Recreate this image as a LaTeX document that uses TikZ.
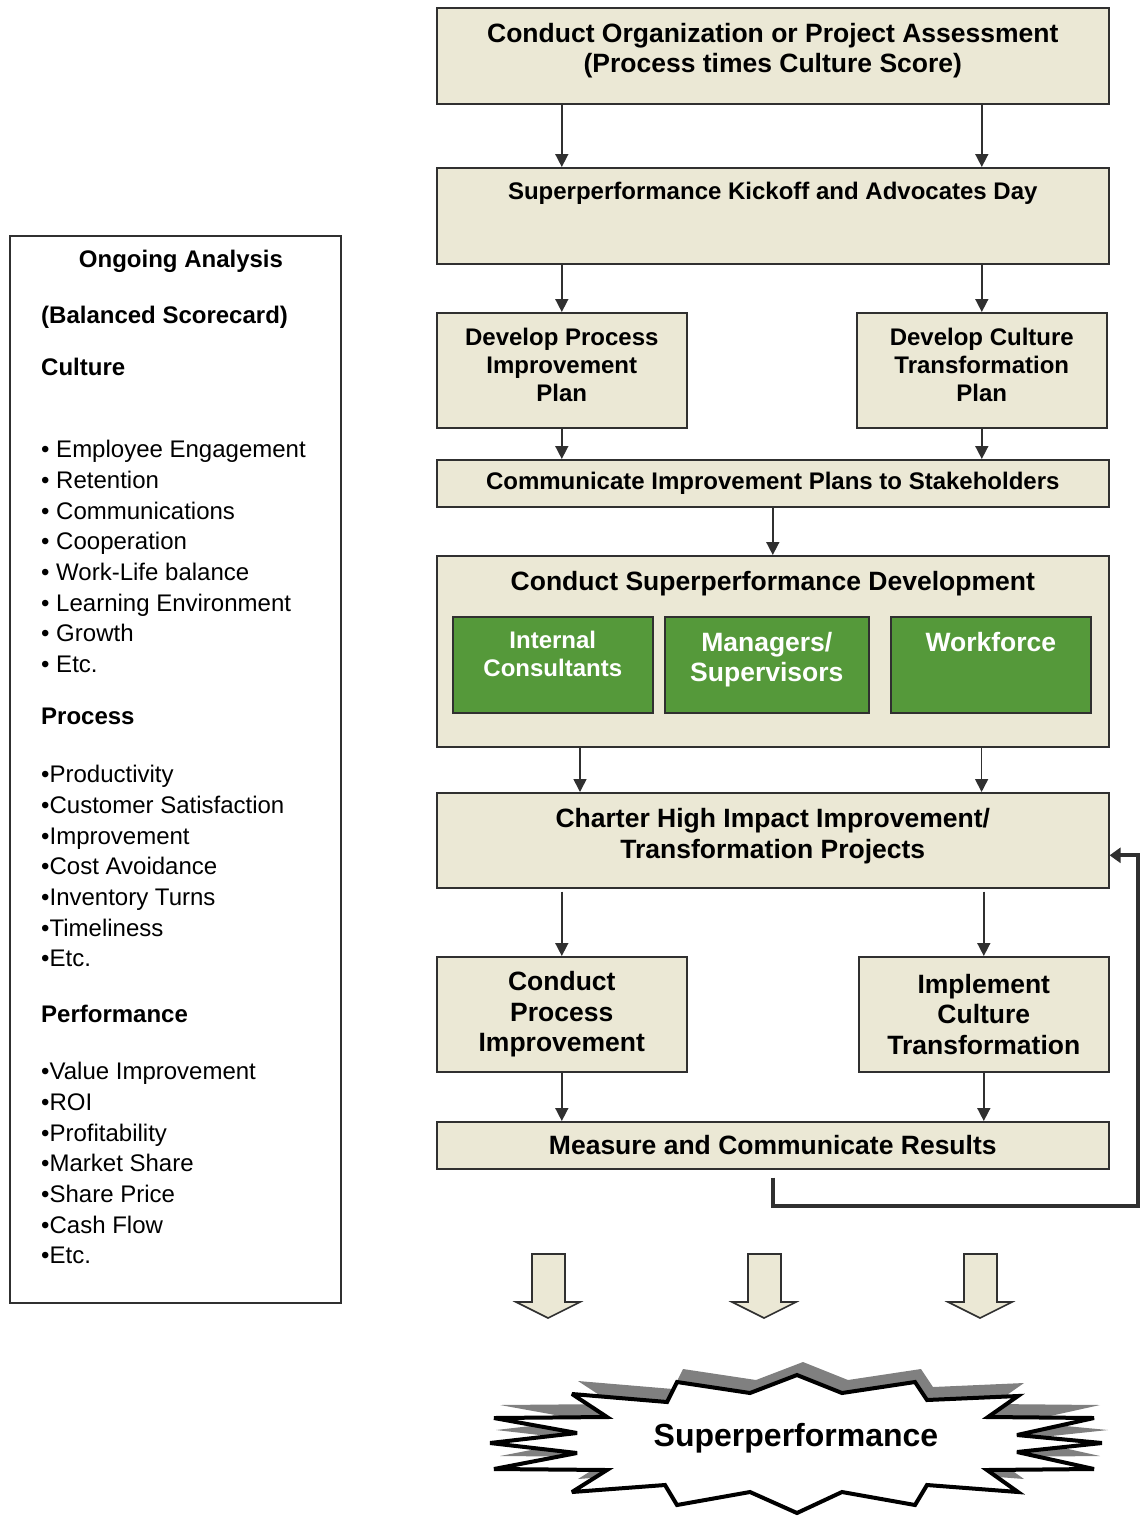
\documentclass[tikz,border=0pt]{standalone}
\usepackage{fontspec}
\setmainfont{Liberation Sans}
\usepackage{xcolor}
\usetikzlibrary{arrows.meta,positioning}
\definecolor{stagefill}{HTML}{EBE8D5}
\definecolor{stageline}{HTML}{303030}
\definecolor{teamfill}{HTML}{55993A}
\definecolor{burstgray}{HTML}{808080}
\newcommand{\bigfont}{\bfseries\fontsize{26.5}{30.5}\selectfont}
\newcommand{\midfont}{\bfseries\fontsize{24}{28}\selectfont}
\newcommand{\listfont}{\fontsize{24}{30.7}\selectfont}
\newcommand{\burstoutline}{(797,1375) -- (842,1393) -- (915,1382) -- (927,1400) -- (1018,1396) -- (988,1417) -- (1094,1418) -- (1017,1435) -- (1102,1443) -- (1017,1452) -- (1094,1469) -- (987,1470) -- (1018,1492) -- (927,1485) -- (915,1505) -- (842,1492) -- (797,1513) -- (750,1492) -- (677,1505) -- (665,1485) -- (572,1492) -- (607,1470) -- (494,1469) -- (577,1453) -- (490,1443) -- (577,1433) -- (494,1418) -- (607,1417) -- (572,1394) -- (667,1402) -- (677,1382) -- (750,1393) -- cycle}

\begin{document}
\begin{tikzpicture}[x=1pt,y=-1pt,
  stage/.style={draw=stageline,fill=stagefill,line width=1.6pt,anchor=north west,inner sep=0pt,align=center,font=\bigfont},
  team/.style={draw=stageline,fill=teamfill,line width=1.6pt,anchor=north west,inner sep=0pt,minimum height=96pt},
  teamtext/.style={inner sep=0pt,align=center,text=white},
  flow/.style={draw=stageline,line width=1.6pt,-{Triangle[length=13pt,width=13pt]}},
  feedback/.style={draw=stageline,line width=4pt,-{Triangle[length=11pt,width=15pt]}},
  fatarrow/.style={draw=stageline,fill=stagefill,line width=1.6pt}]
\useasboundingbox (0,0) rectangle (1143,1521);

% left panel
\node[draw=stageline,line width=1.6pt,anchor=north west,minimum width=331pt,minimum height=1067pt,inner sep=0pt] (analysis) at (9,235) {};
\node[font=\midfont,anchor=base,inner sep=0pt] (ongoing) at (181,267) {Ongoing Analysis};
\node[font=\midfont,anchor=base west,inner sep=0pt] (scorecard) at (41,323) {(Balanced Scorecard)};
\node[font=\midfont,anchor=base west,inner sep=0pt] (culturehead) at (41,375) {Culture};
\node[font=\listfont,anchor=north west,inner sep=0pt,align=left] (culturelist) at (41,440) {• Employee Engagement\\• Retention\\• Communications\\• Cooperation\\• Work-Life balance\\• Learning Environment\\• Growth\\• Etc.};
\node[font=\midfont,anchor=base west,inner sep=0pt] (processhead) at (41,724) {Process};
\node[font=\listfont,anchor=north west,inner sep=0pt,align=left] (processlist) at (41,765) {•Productivity\\•Customer Satisfaction\\•Improvement\\•Cost Avoidance\\•Inventory Turns\\•Timeliness\\•Etc.};
\node[font=\midfont,anchor=base west,inner sep=0pt] (perfhead) at (41,1022) {Performance};
\node[font=\listfont,anchor=north west,inner sep=0pt,align=left] (perflist) at (41,1062) {•Value Improvement\\•ROI\\•Profitability\\•Market Share\\•Share Price\\•Cash Flow\\•Etc.};

% main flow
\node[stage,minimum width=672pt,minimum height=96pt,text depth=16pt] (assess) at (436,7) {Conduct Organization or Project Assessment\\(Process times Culture Score)};
\node[stage,minimum width=672pt,minimum height=96pt] (kickoff) at (436,167) {};
\node[font=\midfont,inner sep=0pt,below=15pt of kickoff.north] (kickofftext) {Superperformance Kickoff and Advocates Day};
\node[stage,font=\midfont,minimum width=250pt,minimum height=115pt,text depth=12pt] (procplan) at (436,312) {Develop Process\\Improvement\\Plan};
\node[stage,font=\midfont,minimum width=250pt,minimum height=115pt,text depth=12pt] (cultplan) at (856,312) {Develop Culture\\Transformation\\Plan};
\node[stage,font=\midfont,minimum width=672pt,minimum height=47pt] (commplan) at (436,459) {Communicate Improvement Plans to Stakeholders};
\node[stage,minimum width=672pt,minimum height=191pt] (develop) at (436,555) {};
\node[font=\bigfont,inner sep=0pt,below=16pt of develop.north] (developtext) {Conduct Superperformance Development};
\node[team,minimum width=200pt] (consult) at (452,616) {};
\node[teamtext,font=\midfont,below=15pt of consult.north] (consulttext) {Internal\\Consultants};
\node[team,minimum width=204pt] (manage) at (664,616) {};
\node[teamtext,font=\bigfont,below=16pt of manage.north] (managetext) {Managers/\\Supervisors};
\node[team,minimum width=200pt] (workforce) at (890,616) {};
\node[teamtext,font=\bigfont,below=16pt of workforce.north] (workforcetext) {Workforce};
\node[stage,minimum width=672pt,minimum height=95pt,text depth=14pt] (charter) at (436,792) {Charter High Impact Improvement/\\Transformation Projects};
\node[stage,minimum width=250pt,minimum height=115pt] (procimpl) at (436,956) {Conduct\\Process\\Improvement};
\node[stage,minimum width=250pt,minimum height=115pt] (cultimpl) at (858,956) {Implement\\Culture\\Transformation};
\node[stage,minimum width=672pt,minimum height=47pt] (results) at (436,1121) {Measure and Communicate Results};

\draw[flow] (assess.south -| procplan.north) -- (kickoff.north -| procplan.north);
\draw[flow] (assess.south -| cultplan.north) -- (kickoff.north -| cultplan.north);
\draw[flow] (kickoff.south -| procplan.north) -- (procplan.north);
\draw[flow] (kickoff.south -| cultplan.north) -- (cultplan.north);
\draw[flow] (procplan.south) -- (commplan.north -| procplan.south);
\draw[flow] (cultplan.south) -- (commplan.north -| cultplan.south);
\draw[flow] (commplan.south) -- (develop.north);
\draw[flow] ([xshift=144pt]develop.south west) -- ([xshift=144pt]charter.north west);
\draw[flow] ([xshift=-128pt]develop.south east) -- ([xshift=-128pt]charter.north east);
\draw[flow,shorten <=3pt] (charter.south -| procimpl.north) -- (procimpl.north);
\draw[flow,shorten <=3pt] (charter.south -| cultimpl.north) -- (cultimpl.north);
\draw[flow] (procimpl.south) -- (results.north -| procimpl.south);
\draw[flow] (cultimpl.south) -- (results.north -| cultimpl.south);

% loop back
\coordinate (loopcorner) at (1138,1206);
\draw[feedback] ([yshift=-8pt]results.south) |- (loopcorner) |- ([yshift=-15pt]charter.east);

% block arrows
\draw[fatarrow] (532,1254) -- (532,1302) -- (516,1302) -- (548,1318) -- (580,1302) -- (565,1302) -- (565,1254) -- cycle;
\draw[fatarrow] (748,1254) -- (748,1302) -- (732,1302) -- (764,1318) -- (796,1302) -- (781,1302) -- (781,1254) -- cycle;
\draw[fatarrow] (964,1254) -- (964,1302) -- (948,1302) -- (980,1318) -- (1012,1302) -- (997,1302) -- (997,1254) -- cycle;

% burst
\begin{scope}[shift={(6,-13)}]
\fill[burstgray] \burstoutline;
\end{scope}
\filldraw[fill=white,draw=black,line width=4pt,line join=miter,miter limit=4] \burstoutline;
\node[font=\bfseries\fontsize{32}{38}\selectfont] (goal) at (796,1438) {Superperformance};
\end{tikzpicture}
\end{document}
